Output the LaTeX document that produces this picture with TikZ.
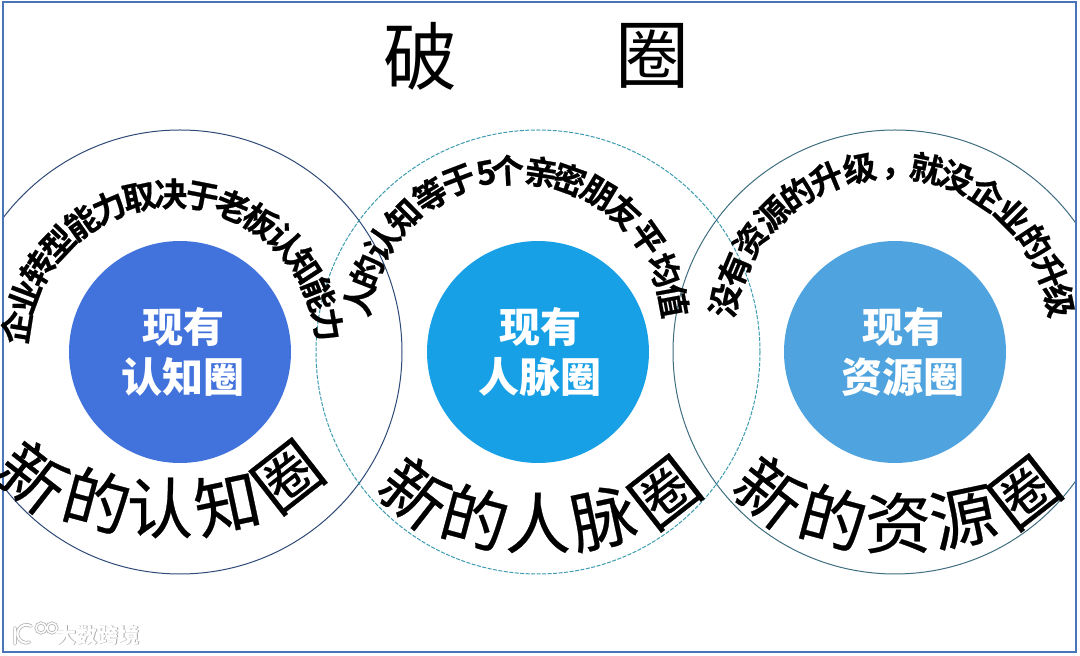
\documentclass[tikz,border=0pt]{standalone}
\usepackage{fontspec}
\usetikzlibrary{calc}
\newfontfamily\cjk{Noto Sans CJK SC}
\newfontfamily\cjkheavy[FakeBold=0.6]{Noto Sans CJK SC Bold}
\newfontfamily\cjkmed[FakeBold=0.4]{Noto Sans CJK SC}
\definecolor{framecol}{HTML}{4A74B8}
\definecolor{ringa}{HTML}{2E4A78}
\definecolor{ringb}{HTML}{3E9CB0}
\definecolor{ringc}{HTML}{3F6E80}
\definecolor{diska}{HTML}{4272DB}
\definecolor{diskb}{HTML}{17A0E6}
\definecolor{diskc}{HTML}{4FA3DE}
\tikzset{
  ring/.style={line width=1pt},
  disk/.style={circle, minimum size=222pt, inner sep=0},
  disklabel/.style={text=white, align=center, font=\cjk\bfseries\fontsize{41}{50}\selectfont},
  topchar/.style={inner sep=0, font=\cjkheavy\fontsize{33}{33}\selectfont},
  lowchar/.style={inner sep=0, font=\cjkmed\fontsize{66}{66}\selectfont},
  titlechar/.style={inner sep=0, font=\cjk\fontsize{74}{74}\selectfont},
  markchar/.style={inner sep=0, text=white, font=\cjk\bfseries\fontsize{21}{21}\selectfont},
}
\begin{document}
\begin{tikzpicture}[x=1pt,y=1pt]
\useasboundingbox (0,0) rectangle (1080,656);
\fill[white] (0,0) rectangle (1080,656);
\coordinate (ca) at (180,304);
\coordinate (cb) at (538,304);
\coordinate (cc) at (895,304);
% rings
\begin{scope}
\clip (3,4) rectangle (1076,654);
\draw[ringa,ring] (ca) circle (222);
\draw[ringb,ring,dashed,dash pattern=on 4pt off 1.5pt] (cb) circle (222);
\draw[ringc,ring] (cc) circle (222);
\end{scope}
\draw[framecol,line width=2pt] (3,4) rectangle (1076,654);
% inner disks
\node[disk,fill=diska] (diskA) at (ca) {};
\node[disk,fill=diskb] (diskB) at (cb) {};
\node[disk,fill=diskc] (diskC) at (cc) {};
\node[disklabel] (labelA) at (183,304) {现有\\认知圈};
\node[disklabel] (labelB) at (540,304) {现有\\人脉圈};
\node[disklabel] (labelC) at (903,304) {现有\\资源圈};
% title
\node[titlechar] (titleA) at (420,600) {破};
\node[titlechar] (titleB) at (652,600) {圈};
% upper lines
\foreach \c [count=\i] in {企,业,转,型,能,力,取,决,于,老,板,认,知,能,力} {
  \pgfmathsetmacro{\ang}{171-(\i-1)*11.5}
  \node[topchar,rotate=\ang-90] (upA\i) at ($(172,304)+(\ang:158)$) {\c};
}
\foreach \c/\ang [count=\i] in {人/169,的/158.7,认/147,知/134.7,等/122.5,于/111,5/100.8,个/93,亲/81,密/70.5,朋/59,友/47.5,平/35,均/22,值/10.5} {
  \node[topchar,rotate=\ang-90] (upB\i) at ($(516,326)+(\ang:160)$) {\c};
}
\foreach \c/\ang/\rad [count=\i] in {没/168/171,有/157.2/171,资/146/171,源/134.5/171,的/123.7/171,升/112.6/171,级/101/171,，/88/162,就/78.3/171,没/67.8/171,企/56.3/171,业/45/171,的/33.5/171,升/22.3/171,级/12/171} {
  \node[topchar,rotate=\ang-90] (upC\i) at ($(892,320)+(\ang:\rad)$) {\c};
}
% lower lines
\foreach \c/\px/\py/\rot [count=\i] in {新/33/179/-38,的/97/156/-15,认/160/148/0,知/227/153/12,圈/288/179/38} {
  \node[lowchar,rotate=\rot] (lowA\i) at (\px,\py) {\c};
}
\foreach \c/\px/\py/\rot [count=\i] in {新/415/163/-38,的/475/139/-15,人/538/133/0,脉/603/138/12,圈/665/163/38} {
  \node[lowchar,rotate=\rot] (lowB\i) at (\px,\py) {\c};
}
\foreach \c/\px/\py/\rot [count=\i] in {新/770/164/-38,的/833/139/-15,资/898/133/0,源/963/139/12,圈/1025/163/38} {
  \node[lowchar,rotate=\rot] (lowC\i) at (\px,\py) {\c};
}
% watermark
\draw[black!30,line width=3.5pt,line cap=round] (15,28) -- (15,12) (31,30) arc (60:290:9);
\draw[black!30,line width=3pt] (41,28) circle (5) (52,28) circle (5);
\draw[white,line width=2pt,line cap=round] (15,28) -- (15,12) (31,30) arc (60:290:9);
\draw[white,line width=1.5pt] (41,28) circle (5) (52,28) circle (5);
\node[markchar,text=black!35] (markS) at (98.6,20.4) {大数跨境};
\node[markchar] (markT) at (98,21) {大数跨境};
\end{tikzpicture}
\end{document}
